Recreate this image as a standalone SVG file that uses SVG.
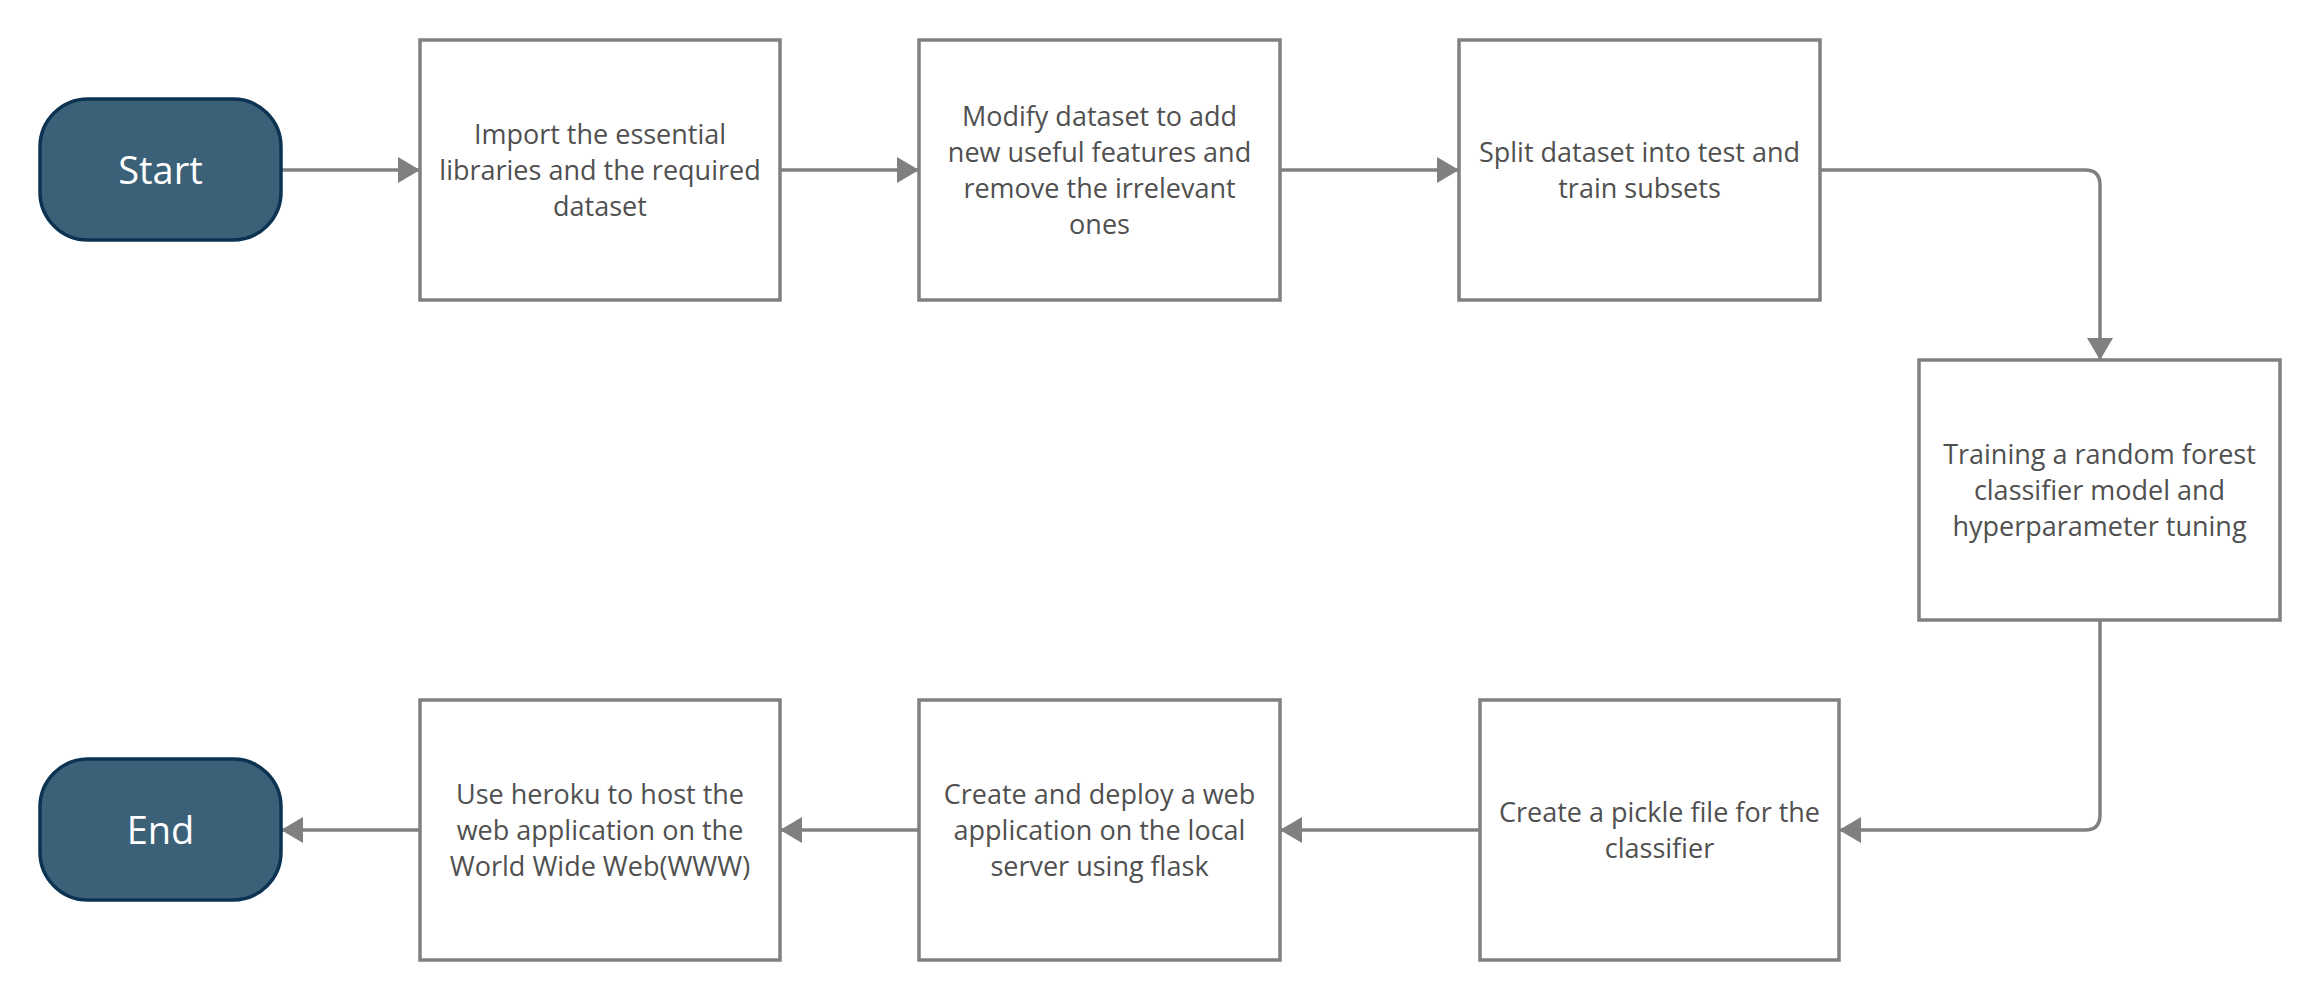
<svg xmlns="http://www.w3.org/2000/svg" width="2320" height="1000" viewBox="0 0 2320 1000">
<style>
.term{fill:#3b6179;stroke:#0c3352;stroke-width:3.5}
.box{fill:#ffffff;stroke:#808080;stroke-width:3.5}
.tt{font-family:"Open Sans","Noto Sans",sans-serif;font-size:38px;fill:#ffffff;text-anchor:middle}
.bt{font-family:"Open Sans","Noto Sans",sans-serif;font-size:27px;fill:#505050;text-anchor:middle}
.con{fill:none;stroke:#808080;stroke-width:3.5}
</style>
<defs>
<marker id="ah" markerUnits="userSpaceOnUse" markerWidth="24" markerHeight="28" refX="22" refY="13" orient="auto">
<path d="M0,0 L22,13 L0,26 z" fill="#808080"/>
</marker>
</defs>
<rect width="2320" height="1000" fill="#ffffff"/>
<g id="connectors">
<path class="con" d="M281,170 H420" marker-end="url(#ah)"/>
<path class="con" d="M780,170 H919" marker-end="url(#ah)"/>
<path class="con" d="M1280,170 H1459" marker-end="url(#ah)"/>
<path class="con" d="M1820,170 H2085 Q2100,170 2100,185 V360" marker-end="url(#ah)"/>
<path class="con" d="M2100,620 V815 Q2100,830 2085,830 H1839" marker-end="url(#ah)"/>
<path class="con" d="M1480,830 H1280" marker-end="url(#ah)"/>
<path class="con" d="M919,830 H780" marker-end="url(#ah)"/>
<path class="con" d="M420,830 H281" marker-end="url(#ah)"/>
</g>
<g id="start">
<rect class="term" x="40" y="99" width="241" height="141" rx="48" ry="48"/>
<text class="tt" x="160.5" y="184">Start</text>
</g>
<g id="import">
<rect class="box" x="420" y="40" width="360" height="260"/>
<text class="bt" x="600" y="144">Import the essential</text>
<text class="bt" x="600" y="180">libraries and the required</text>
<text class="bt" x="600" y="216">dataset</text>
</g>
<g id="modify">
<rect class="box" x="919" y="40" width="361" height="260"/>
<text class="bt" x="1099.5" y="126">Modify dataset to add</text>
<text class="bt" x="1099.5" y="162">new useful features and</text>
<text class="bt" x="1099.5" y="198">remove the irrelevant</text>
<text class="bt" x="1099.5" y="234">ones</text>
</g>
<g id="split">
<rect class="box" x="1459" y="40" width="361" height="260"/>
<text class="bt" x="1639.5" y="162">Split dataset into test and</text>
<text class="bt" x="1639.5" y="198">train subsets</text>
</g>
<g id="train">
<rect class="box" x="1919" y="360" width="361" height="260"/>
<text class="bt" x="2099.5" y="464">Training a random forest</text>
<text class="bt" x="2099.5" y="500">classifier model and</text>
<text class="bt" x="2099.5" y="536">hyperparameter tuning</text>
</g>
<g id="pickle">
<rect class="box" x="1480" y="700" width="359" height="260"/>
<text class="bt" x="1659.5" y="822">Create a pickle file for the</text>
<text class="bt" x="1659.5" y="858">classifier</text>
</g>
<g id="deploy">
<rect class="box" x="919" y="700" width="361" height="260"/>
<text class="bt" x="1099.5" y="804">Create and deploy a web</text>
<text class="bt" x="1099.5" y="840">application on the local</text>
<text class="bt" x="1099.5" y="876">server using flask</text>
</g>
<g id="heroku">
<rect class="box" x="420" y="700" width="360" height="260"/>
<text class="bt" x="600" y="804">Use heroku to host the</text>
<text class="bt" x="600" y="840">web application on the</text>
<text class="bt" x="600" y="876">World Wide Web(WWW)</text>
</g>
<g id="end">
<rect class="term" x="40" y="759" width="241" height="141" rx="48" ry="48"/>
<text class="tt" x="160.5" y="844">End</text>
</g>
</svg>
